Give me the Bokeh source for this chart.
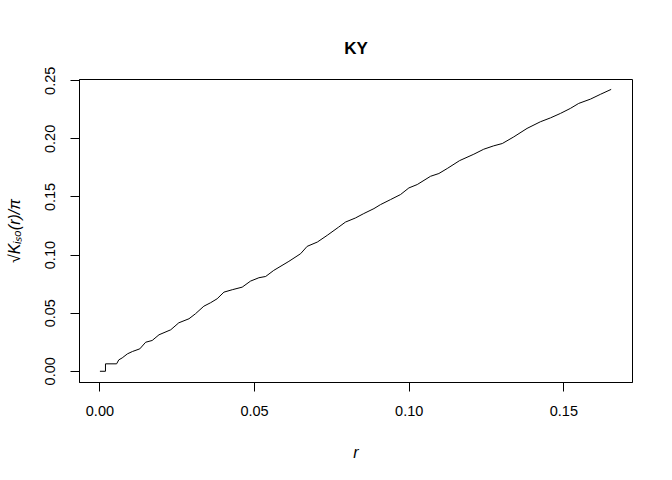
from bokeh.plotting import figure
from bokeh.models import Range1d, FixedTicker, NumeralTickFormatter
from bokeh.embed import file_html
from bokeh.resources import INLINE

r_vals = [0.0, 0.0018, 0.0018, 0.0054, 0.0061, 0.0072, 0.0089, 0.0105, 0.0129, 0.0148,
          0.0169, 0.0191, 0.0229, 0.0255, 0.0288, 0.0309, 0.0336, 0.0358, 0.0379, 0.0401,
          0.0428, 0.0460, 0.0487, 0.0514, 0.0536, 0.0562, 0.0611, 0.0649, 0.0670, 0.0703,
          0.0735, 0.0772, 0.0794, 0.0826, 0.0853, 0.0886, 0.0907, 0.0940, 0.0972, 0.0999,
          0.1026, 0.1069, 0.1096, 0.1123, 0.1163, 0.1209, 0.1241, 0.1273, 0.1301, 0.1338,
          0.1381, 0.1424, 0.1457, 0.1489, 0.1521, 0.1548, 0.1586, 0.1618, 0.1653]
k_vals = [0.0, 0.0, 0.0064, 0.0064, 0.0098, 0.0115, 0.0150, 0.0170, 0.0193, 0.0250,
          0.0265, 0.0314, 0.0357, 0.0417, 0.0452, 0.0495, 0.0560, 0.0590, 0.0624, 0.0681,
          0.0702, 0.0724, 0.0776, 0.0805, 0.0816, 0.0868, 0.0946, 0.1012, 0.1075, 0.1112,
          0.1170, 0.1241, 0.1284, 0.1319, 0.1357, 0.1400, 0.1434, 0.1478, 0.1521, 0.1578,
          0.1607, 0.1678, 0.1702, 0.1745, 0.1813, 0.1868, 0.1911, 0.1940, 0.1960, 0.2017,
          0.2090, 0.2147, 0.2181, 0.2219, 0.2262, 0.2305, 0.2342, 0.2383, 0.2426]

x_ticks = [0.0, 0.05, 0.10, 0.15]
y_ticks = [0.0, 0.05, 0.10, 0.15, 0.20, 0.25]

FONT = "Liberation Sans"

p = figure(width=656, height=464, output_backend="svg", toolbar_location=None,
           x_range=Range1d(-0.0066, 0.1722), y_range=Range1d(-0.00966, 0.2511),
           min_border_left=79, min_border_right=24, min_border_top=79, min_border_bottom=82)

p.line(r_vals, k_vals, line_color="black", line_width=1)

p.title.text = "KY"
p.title.align = "center"
p.title.text_font = FONT
p.title.text_font_size = "17px"
p.title.text_font_style = "bold"
p.title.text_color = "black"
p.title.standoff = 43

p.grid.visible = False
p.outline_line_color = "black"
p.outline_line_width = 1
p.background_fill_color = "white"
p.border_fill_color = "white"

for ax in (p.xaxis[0], p.yaxis[0]):
    ax.axis_line_color = "black"
    ax.major_tick_line_color = "black"
    ax.major_tick_out = 9
    ax.major_tick_in = 0
    ax.minor_tick_line_color = None
    ax.major_label_text_font = FONT
    ax.major_label_text_font_size = "14.5px"
    ax.major_label_text_color = "black"
    ax.axis_label_text_font = FONT
    ax.axis_label_text_font_size = "16px"
    ax.axis_label_text_font_style = "italic"
    ax.axis_label_text_color = "black"
    ax.formatter = NumeralTickFormatter(format="0.00")

p.xaxis[0].ticker = FixedTicker(ticks=x_ticks)
p.yaxis[0].ticker = FixedTicker(ticks=y_ticks)
p.xaxis[0].axis_label = "r"
p.yaxis[0].axis_label = "\u221aK\u1d62\u209b\u2092(r)/\u03c0"
p.yaxis[0].major_label_orientation = "vertical"
p.xaxis[0].major_label_standoff = 14
p.yaxis[0].major_label_standoff = 15
p.xaxis[0].axis_label_standoff = 25
p.yaxis[0].axis_label_standoff = 20

open("out.html", "w").write(file_html(p, INLINE))
